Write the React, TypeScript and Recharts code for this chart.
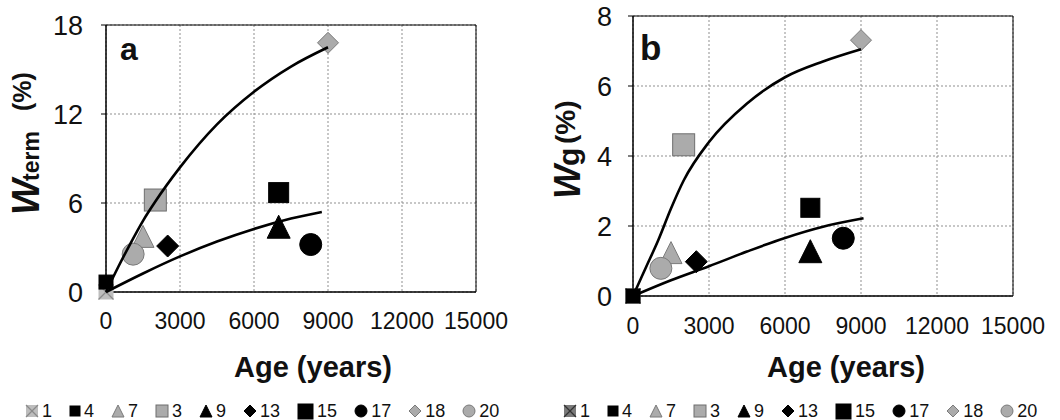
import React from 'react'
import { ScatterChart, Scatter, XAxis, YAxis, CartesianGrid, ReferenceArea } from 'recharts'

// sample ids, in legend order
const sampleIds = ['1', '4', '7', '3', '9', '13', '15', '17', '18', '20']
const sampleAge = [0, 0, 1500, 2000, 7000, 2500, 7000, 8300, 9000, 1100]
const wTerm = [0, 0.67, 3.75, 6.2, 4.4, 3.1, 6.7, 3.2, 16.8, 2.55]
const wG = [0, 0, 1.24, 4.32, 1.28, 0.98, 2.52, 1.65, 7.31, 0.79]

// fitted trend lines
const upperAgeA = [0, 500, 1000, 1500, 2000, 3000, 4500, 6000, 7500, 9000]
const upperTermA = [0, 1.7, 3.3, 4.8, 6.1, 8.4, 11.3, 13.5, 15.2, 16.5]
const lowerAgeA = [0, 1500, 3000, 4500, 6000, 7500, 8750]
const lowerTermA = [0, 1.25, 2.4, 3.4, 4.25, 4.95, 5.4]
const upperAgeB = [0, 500, 1000, 1500, 2000, 3000, 4500, 6000, 7500, 9000]
const upperGB = [0, 0.8, 1.6, 2.5, 3.3, 4.4, 5.5, 6.25, 6.7, 7.05]
const lowerAgeB = [0, 1500, 3000, 4500, 6000, 7500, 9100]
const lowerGB = [0, 0.45, 0.85, 1.27, 1.66, 1.98, 2.22]

const ageTicks = [0, 3000, 6000, 9000, 12000, 15000]
const termTicks = [0, 6, 12, 18]
const gTicks = [0, 2, 4, 6, 8]

const FONT = '"Liberation Sans", Arial, sans-serif'
const GRAY = '#ababab'

type Kind = 'xbox' | 'square' | 'triangle' | 'diamond' | 'circle'
interface Style { kind: Kind; size: number; legendSize: number; fill: string; stroke: string }

const styleA: Record<string, Style> = {
  '1': { kind: 'xbox', size: 15, legendSize: 12, fill: '#bdbdbd', stroke: '#8a8a8a' },
  '4': { kind: 'square', size: 14, legendSize: 10, fill: '#000', stroke: '#000' },
  '7': { kind: 'triangle', size: 22, legendSize: 12, fill: GRAY, stroke: '#7a7a7a' },
  '3': { kind: 'square', size: 22, legendSize: 12, fill: GRAY, stroke: '#6e6e6e' },
  '9': { kind: 'triangle', size: 23, legendSize: 12, fill: '#000', stroke: '#000' },
  '13': { kind: 'diamond', size: 22, legendSize: 12, fill: '#000', stroke: '#000' },
  '15': { kind: 'square', size: 20, legendSize: 15, fill: '#000', stroke: '#000' },
  '17': { kind: 'circle', size: 22, legendSize: 12, fill: '#000', stroke: '#000' },
  '18': { kind: 'diamond', size: 21, legendSize: 12, fill: GRAY, stroke: '#7a7a7a' },
  '20': { kind: 'circle', size: 22, legendSize: 12, fill: GRAY, stroke: '#7a7a7a' },
}
const styleB: Record<string, Style> = {
  ...styleA,
  '1': { kind: 'xbox', size: 15, legendSize: 12, fill: '#7a7a7a', stroke: '#333' },
  '15': { kind: 'square', size: 19, legendSize: 15, fill: '#000', stroke: '#000' },
}

function Marker({ cx, cy, s }: { cx: number; cy: number; s: Style }) {
  const h = s.size / 2
  if (cx == null || cy == null) return <g />
  switch (s.kind) {
    case 'square':
      return <rect x={cx - h} y={cy - h} width={s.size} height={s.size} fill={s.fill} stroke={s.stroke} strokeWidth={1} />
    case 'triangle':
      return <polygon points={`${cx},${cy - h} ${cx + h},${cy + h} ${cx - h},${cy + h}`} fill={s.fill} stroke={s.stroke} strokeWidth={1} />
    case 'diamond':
      return <polygon points={`${cx},${cy - h} ${cx + h},${cy} ${cx},${cy + h} ${cx - h},${cy}`} fill={s.fill} stroke={s.stroke} strokeWidth={1} />
    case 'circle':
      return <circle cx={cx} cy={cy} r={h} fill={s.fill} stroke={s.stroke} strokeWidth={1} />
    default:
      return (
        <g>
          <rect x={cx - h} y={cy - h} width={s.size} height={s.size} fill={s.fill} />
          <line x1={cx - h} y1={cy - h} x2={cx + h} y2={cy + h} stroke={s.stroke} strokeWidth={1.2} />
          <line x1={cx - h} y1={cy + h} x2={cx + h} y2={cy - h} stroke={s.stroke} strokeWidth={1.2} />
        </g>
      )
  }
}

function Legend({ left, styles }: { left: number; styles: Record<string, Style> }) {
  return (
    <div style={{ position: 'absolute', left, top: 400, height: 22, display: 'flex', alignItems: 'center', gap: 17, fontFamily: FONT, fontSize: 18, color: '#111' }}>
      {sampleIds.map((id) => {
        const s = { ...styles[id], size: styles[id].legendSize }
        const box = s.size + 2
        return (
          <span key={id} style={{ display: 'flex', alignItems: 'center', gap: 3 }}>
            <svg width={box} height={box} style={{ display: 'block' }}>
              <Marker cx={box / 2} cy={box / 2} s={s} />
            </svg>
            <span>{id}</span>
          </span>
        )
      })}
    </div>
  )
}

// one rotated piece of the y title: runs upward from (x, y), baseline at x
interface TitlePart { text: string; x: number; y: number; size: number; italic?: boolean }

function YTitle({ parts }: { parts: TitlePart[] }) {
  return (
    <svg width={70} height={320} style={{ position: 'absolute', left: 0, top: 0, pointerEvents: 'none' }}>
      {parts.map((t, i) => (
        <text
          key={i}
          x={t.x}
          y={t.y}
          transform={`rotate(-90 ${t.x} ${t.y})`}
          fontFamily={FONT}
          fontWeight="bold"
          fontStyle={t.italic ? 'italic' : 'normal'}
          fontSize={t.size}
          fill="#111"
        >
          {t.text}
        </text>
      ))}
    </svg>
  )
}

interface PanelProps {
  left: number
  letter: string
  letterX: number
  letterSize: number
  values: number[]
  styles: Record<string, Style>
  yMax: number
  yTicks: number[]
  upper: { x: number; y: number }[]
  lower: { x: number; y: number }[]
  margin: { top: number; right: number }
  yWidth: number
  xHeight: number
  yTickMargin: number
  xTickMargin: number
  titleX: number
  titleParts: TitlePart[]
}

function Panel(p: PanelProps) {
  return (
    <div style={{ position: 'absolute', left: p.left, top: 0, width: 530, height: 420 }}>
      <ScatterChart width={530} height={420} margin={{ top: p.margin.top, right: p.margin.right, left: 0, bottom: 0 }}>
        <CartesianGrid stroke="#8f8f8f" strokeDasharray="2 2" />
        <XAxis
          type="number"
          dataKey="x"
          domain={[0, 15000]}
          ticks={ageTicks}
          interval={0}
          height={p.xHeight}
          axisLine={{ stroke: '#000' }}
          tickLine={false}
          tickSize={6}
          tickMargin={p.xTickMargin}
          tick={{ fontSize: 23, fill: '#111', fontFamily: FONT }}
          label={{
            content: () => (
              <text x={p.titleX} y={377} textAnchor="middle" fontFamily={FONT} fontWeight="bold" fontSize={29} fill="#111">
                Age (years)
              </text>
            ),
          }}
        />
        <YAxis
          type="number"
          dataKey="y"
          domain={[0, p.yMax]}
          ticks={p.yTicks}
          interval={0}
          width={p.yWidth}
          axisLine={{ stroke: '#000' }}
          tickLine={{ stroke: '#000' }}
          tickSize={5}
          tickMargin={p.yTickMargin}
          tick={{ fontSize: 27, fill: '#111', fontFamily: FONT }}
        />
        <ReferenceArea
          x1={0}
          x2={15000}
          y1={0}
          y2={p.yMax}
          fill="none"
          stroke="#000"
          strokeWidth={1}
          label={{
            content: () => (
              <text x={p.letterX} y={60} fontFamily={FONT} fontWeight="bold" fontSize={p.letterSize} fill="#111">
                {p.letter}
              </text>
            ),
          }}
        />
        {sampleIds.map((id, i) => (
          <Scatter
            key={id}
            name={id}
            data={[{ x: sampleAge[i], y: p.values[i] }]}
            isAnimationActive={false}
            shape={(sp: any) => <Marker cx={sp.cx} cy={sp.cy} s={p.styles[id]} />}
          />
        ))}
        <Scatter data={p.upper} line={{ stroke: '#000', strokeWidth: 2.6 }} lineJointType="monotoneX" shape={() => <g />} isAnimationActive={false} />
        <Scatter data={p.lower} line={{ stroke: '#000', strokeWidth: 2.6 }} lineJointType="monotoneX" shape={() => <g />} isAnimationActive={false} />
      </ScatterChart>
      <YTitle parts={p.titleParts} />
    </div>
  )
}

const toPts = (xs: number[], ys: number[]) => xs.map((x, i) => ({ x, y: ys[i] }))

export default function App() {
  return (
    <div style={{ position: 'absolute', left: 0, top: 0, width: 1060, height: 420, background: '#fff', overflow: 'hidden' }}>
      <Panel
        left={0}
        letter="a"
        letterX={120}
        letterSize={32}
        values={wTerm}
        styles={styleA}
        yMax={18}
        yTicks={termTicks}
        upper={toPts(upperAgeA, upperTermA)}
        lower={toPts(lowerAgeA, lowerTermA)}
        margin={{ top: 25, right: 54 }}
        yWidth={106}
        xHeight={128}
        yTickMargin={18}
        xTickMargin={15}
        titleX={313}
        titleParts={[
          { text: 'W', x: 39, y: 215, size: 38, italic: true },
          { text: 'term', x: 39, y: 181, size: 23 },
          { text: '(%)', x: 31, y: 111, size: 25 },
        ]}
      />
      <Panel
        left={530}
        letter="b"
        letterX={110}
        letterSize={35}
        values={wG}
        styles={styleB}
        yMax={8}
        yTicks={gTicks}
        upper={toPts(upperAgeB, upperGB)}
        lower={toPts(lowerAgeB, lowerGB)}
        margin={{ top: 16, right: 47 }}
        yWidth={103}
        xHeight={124}
        yTickMargin={16}
        xTickMargin={16}
        titleX={316}
        titleParts={[
          { text: 'W', x: 50, y: 199, size: 36, italic: true },
          { text: 'g', x: 49, y: 166, size: 30 },
          { text: '(%)', x: 45, y: 144, size: 28 },
        ]}
      />
      <Legend left={25} styles={styleA} />
      <Legend left={563} styles={styleB} />
    </div>
  )
}
